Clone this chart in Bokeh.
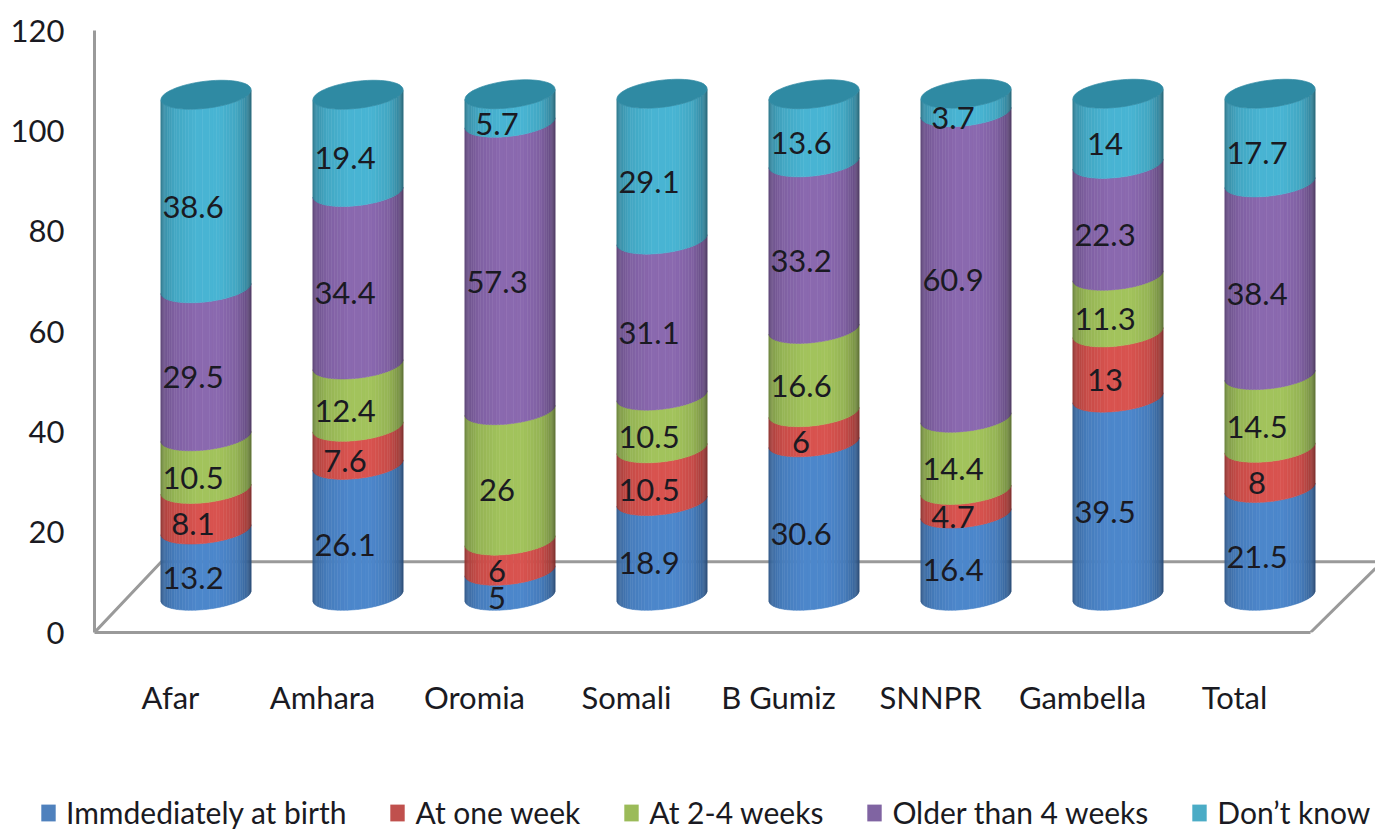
import numpy as np
from bokeh.embed import file_html
from bokeh.resources import INLINE
from bokeh.layouts import column, row
from bokeh.plotting import figure
from bokeh.models import (ColumnDataSource, Range1d, LinearAxis, FixedTicker, Legend, LegendItem)
from bokeh.core.properties import value

categories = ["Afar", "Amhara", "Oromia", "Somali", "B Gumiz", "SNNPR", "Gambella", "Total"]
immediately = [13.2, 26.1, 5, 18.9, 30.6, 16.4, 39.5, 21.5]
one_week = [8.1, 7.6, 6, 10.5, 6, 4.7, 13, 8]
two_four = [10.5, 12.4, 26, 10.5, 16.6, 14.4, 11.3, 14.5]
older = [29.5, 34.4, 57.3, 31.1, 33.2, 60.9, 22.3, 38.4]
dont_know = [38.6, 19.4, 5.7, 29.1, 13.6, 3.7, 14, 17.7]
series_names = ["Immdediately at birth", "At one week", "At 2-4 weeks", "Older than 4 weeks", "Don\u2019t know"]
y_ticks = [0, 20, 40, 60, 80, 100, 120]

series = [immediately, one_week, two_four, older, dont_know]
colors = ["#4a82c4", "#d0504c", "#9cbc59", "#8565a9", "#46aecb"]
legend_colors = ["#4F81BD", "#C0504D", "#9BBB59", "#8064A2", "#4BACC6"]
top_color = "#2f8aa3"
FONT = "Lato"
TXT = "#1a1a22"
GREY = "#9a9a9a"

W, H = 1375, 790
L, B, T = 94, 158, 30
frame_w = W - L
px_per_cat = 152.0
x_end = -0.5 + frame_w / px_per_cat

p = figure(width=W, height=H, output_backend="svg", toolbar_location=None,
           x_range=Range1d(-0.5, x_end), y_range=Range1d(0, 120),
           min_border_left=L, min_border_right=0, min_border_top=T, min_border_bottom=B,
           x_axis_type=None, y_axis_type=None, outline_line_color=None)
p.grid.visible = False
bx0 = -0.7336
p.extra_x_ranges["bars"] = Range1d(bx0, bx0 + frame_w / px_per_cat)
p.extra_y_ranges["bars"] = Range1d(-7.3, 112.7)

# axes
yax = LinearAxis(ticker=FixedTicker(ticks=y_ticks), axis_line_color=GREY, axis_line_width=3,
                 major_tick_line_color=None, minor_tick_line_color=None, major_tick_out=0, major_tick_in=0,
                 major_label_standoff=30,
                 major_label_text_font=FONT, major_label_text_font_size="31px",
                 major_label_text_color=TXT)
p.add_layout(yax, "left")
xax = LinearAxis(ticker=FixedTicker(ticks=list(range(8))), bounds=(-0.5, 7.5),
                 major_label_overrides={i: c for i, c in enumerate(categories)},
                 axis_line_color=GREY, axis_line_width=3, major_tick_line_color=None,
                 minor_tick_line_color=None, major_tick_out=0, major_tick_in=0, major_label_standoff=45,
                 major_label_text_font=FONT, major_label_text_font_size="31px",
                 major_label_text_color=TXT)
p.add_layout(xax, "below")

# floor
floor_back = 14.1
p.line([-0.5, -0.06, x_end], [0, floor_back, floor_back], line_color=GREY, line_width=3)
p.line([7.5, x_end], [0, 12.8], line_color=GREY, line_width=3)

# cylinders
a, b, tilt = 0.296, 2.7, 1.0
N = 40
u = -np.cos(np.linspace(0, np.pi, N + 1))
shade_u = [-1, -0.92, -0.7, -0.2, 0.3, 0.7, 0.92, 1]
shade_f = [0.70, 0.84, 0.96, 1.04, 1.04, 0.95, 0.78, 0.62]


def shaded(hexcol, f):
    rgb = [int(hexcol[i:i + 2], 16) for i in (1, 3, 5)]
    return "#%02x%02x%02x" % tuple(min(255, int(c * f)) for c in rgb)


def arc(us, v):
    return v - b * np.sqrt(np.clip(1 - us ** 2, 0, 1)) + tilt * us


xs, ys, cols = [], [], []
lx, ly, lt = [], [], []
tops_x, tops_y = [], []
for i in range(len(categories)):
    base = 0.0
    for s, col in zip(series, colors):
        v = s[i]
        top = base + v
        for j in range(N):
            u0, u1 = u[j], u[j + 1]
            um = 0.5 * (u0 + u1)
            pair = np.array([u0, u1])
            xs.append(list(i + a * pair) + list(i + a * pair[::-1]))
            ys.append(list(arc(pair, base)) + list(arc(pair[::-1], top)))
            cols.append(shaded(col, float(np.interp(um, shade_u, shade_f))))
        lx.append(i)
        ly.append(base + v / 2)
        lt.append(f"{v:g}")
        base = top
    th = np.linspace(0, 2 * np.pi, 61)
    tops_x.append(list(i + a * np.cos(th)))
    tops_y.append(list(base + b * np.sin(th) + tilt * np.cos(th)))

p.patches("xs", "ys", source=ColumnDataSource(dict(xs=xs, ys=ys, c=cols)), fill_color="c", line_color="c",
          line_width=0.5, x_range_name="bars", y_range_name="bars")
p.patches(tops_x, tops_y, fill_color=top_color, line_color=top_color, line_width=0.7,
          x_range_name="bars", y_range_name="bars")
p.text(lx, ly, text=lt, x_offset=-13, y_offset=15, text_align="center", text_baseline="middle",
       text_font=value(FONT), text_font_size="31px", text_color=TXT,
       x_range_name="bars", y_range_name="bars")

# legend strip
q = figure(width=W, height=40, output_backend="svg", toolbar_location=None,
           x_range=Range1d(0, 1), y_range=Range1d(0, 1),
           min_border_left=0, min_border_right=0, min_border_top=0, min_border_bottom=0,
           x_axis_type=None, y_axis_type=None, outline_line_color=None)
q.grid.visible = False
items = []
for name, col in zip(series_names, legend_colors):
    r = q.quad(left=[np.nan], right=[np.nan], top=[np.nan], bottom=[np.nan], fill_color=col, line_color=None)
    items.append(LegendItem(label=name, renderers=[r]))
legend = Legend(items=items, orientation="horizontal", location=(39, 0), spacing=42,
                glyph_width=18, glyph_height=21, label_standoff=9, padding=0, margin=0,
                label_text_font=FONT, label_text_font_size="30px", label_text_color=TXT,
                background_fill_alpha=0, border_line_color=None)
q.add_layout(legend)

open("out.html", "w").write(file_html(column(row(p), row(q), spacing=0), INLINE))
